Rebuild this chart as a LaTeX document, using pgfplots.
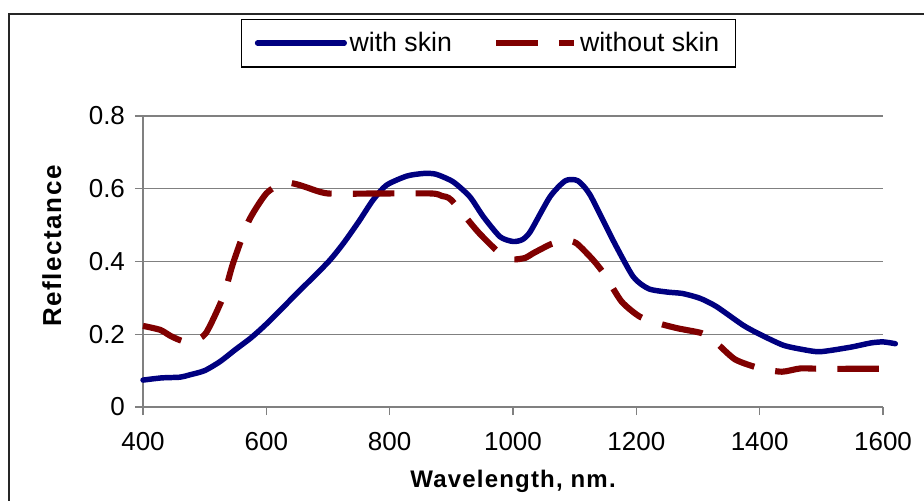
\documentclass[border=0pt]{standalone}
\usepackage{fontspec}
\setmainfont{Liberation Sans}
\usepackage{pgfplots}
\pgfplotsset{compat=1.18}
\definecolor{navyc}{HTML}{000080}
\definecolor{maroonc}{HTML}{800000}
\definecolor{gridc}{HTML}{808080}
\pgfplotsset{
  bluelegimg/.style={legend image code/.code={\draw[##1] (0pt,0pt) -- (65pt,0pt);}},
  redlegimg/.style={legend image code/.code={\draw[##1] (0pt,0pt) -- (58.5pt,0pt);}},
}
\begin{document}
\begin{tikzpicture}
\path[use as bounding box] (0pt,0pt) rectangle (693pt,375pt);
\draw[line width=1.3pt,black!85] (6.75pt,-20pt) -- (6.75pt,364.5pt) -- (720pt,364.5pt);
\begin{axis}[
  at={(107.25pt,69.75pt)}, anchor=south west,
  scale only axis, width=555pt, height=218.25pt,
  xmin=400, xmax=1600, ymin=0, ymax=0.8,
  xtick={400,600,...,1600}, ytick={0,0.2,...,0.8},
  axis x line*=bottom, axis y line*=left,
  axis line style={gridc, line width=0.9pt, -},
  tick style={gridc, line width=0.9pt},
  tick align=outside, major tick length=6pt,
  ymajorgrids, grid style={gridc, line width=0.9pt},
  /pgf/number format/assume math mode=true,
  tick label style={font=\fontsize{19.5}{21}\selectfont, black},
  yticklabel style={/pgf/number format/fixed, /pgf/number format/precision=1, xshift=-4pt},
  scaled y ticks=false,
  xticklabel style={/pgf/number format/1000 sep={}, yshift=-9.5pt},
  xlabel={\addfontfeatures{LetterSpace=5}\bfseries Wavelength, nm.},
  ylabel={\addfontfeatures{LetterSpace=6}\bfseries Reflectance},
  xlabel style={font=\fontsize{18}{20}\selectfont, at={(axis description cs:0.5,-0.2)}, anchor=north},
  ylabel style={font=\fontsize{19.5}{21}\selectfont, at={(axis description cs:-0.104,0.553)}, anchor=south},
  clip=false,
  legend style={at={(0.1324,1.335)}, anchor=north west, draw=black, line width=0.8pt,
    inner xsep=10pt, inner ysep=8pt, font=\fontsize{20}{22}\selectfont,
    /tikz/every even column/.append style={column sep=29pt}},
  legend columns=2,
]
\addplot[navyc, line width=4.1pt, line join=round, line cap=round, smooth, tension=0.4, bluelegimg]
coordinates {
(400,0.074) (430,0.080) (460,0.082) (475,0.088) (500,0.100) (525,0.125)
(550,0.158) (575,0.190) (600,0.228) (650,0.313) (700,0.398) (725,0.450)
(750,0.510) (773,0.569) (795,0.610) (828,0.635) (855,0.642) (875,0.640)
(903,0.619) (930,0.578) (952,0.523) (979,0.468) (1000,0.455) (1015,0.460)
(1028,0.482) (1060,0.578) (1085,0.622) (1105,0.622) (1125,0.583) (1162,0.459)
(1195,0.358) (1220,0.325) (1250,0.316) (1275,0.312) (1303,0.299) (1330,0.276)
(1373,0.225) (1400,0.200) (1438,0.170) (1470,0.158) (1498,0.152) (1546,0.164)
(1580,0.176) (1600,0.179) (1620,0.174)
};
\addlegendentry{with skin}
\addplot[maroonc, line width=4.6pt, dash pattern=on 31pt off 16pt, smooth, tension=0.4, redlegimg]
coordinates {
(400,0.223) (428,0.212) (445,0.195) (463,0.182) (480,0.180) (502,0.203)
(530,0.303) (546,0.395) (571,0.510) (600,0.587) (628,0.617) (650,0.612)
(665,0.604) (700,0.587) (780,0.587) (868,0.587) (885,0.580) (900,0.569)
(943,0.482) (979,0.422) (1000,0.406) (1020,0.410) (1032,0.422) (1062,0.448)
(1085,0.458) (1103,0.450) (1130,0.404) (1149,0.363) (1176,0.290) (1206,0.248)
(1240,0.228) (1268,0.216) (1306,0.203) (1325,0.184) (1360,0.131) (1401,0.106)
(1436,0.097) (1466,0.106) (1500,0.105) (1560,0.105) (1620,0.105)
};
\addlegendentry{without skin}
\end{axis}
\end{tikzpicture}
\end{document}
